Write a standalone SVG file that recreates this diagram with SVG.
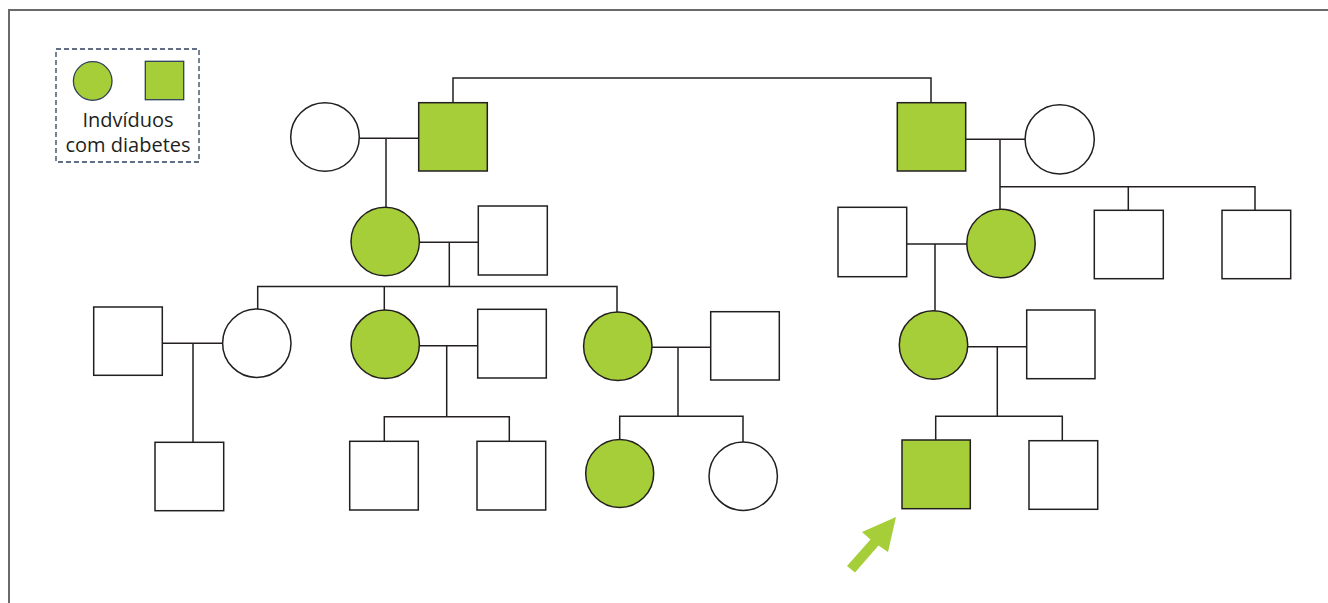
<svg xmlns="http://www.w3.org/2000/svg" width="1328" height="603" viewBox="0 0 1328 603">
<style>
.m{fill:#fff;stroke:#231f20;stroke-width:1.5}
.a{fill:#a6ce39;stroke:#231f20;stroke-width:1.5}
.c{fill:none;stroke:#231f20;stroke-width:1.5}
.t{font-family:"Open Sans","Liberation Sans",sans-serif;font-size:20px;fill:#231f20;text-anchor:middle}
</style>
<rect width="1328" height="603" fill="#fff"/>
<g id="frame"><path d="M9 603V10H1328" fill="none" stroke="#6a6a6a" stroke-width="2"/></g>
<g id="legend">
<rect x="56" y="49" width="143" height="113" fill="none" stroke="#2e3f5c" stroke-width="1.3" stroke-dasharray="5,3"/>
<circle cx="92.7" cy="81" r="19.3" fill="#a6ce39" stroke="#2e3f5c" stroke-width="1.3"/>
<rect x="145.3" y="61.3" width="38.4" height="38.4" fill="#a6ce39" stroke="#2e3f5c" stroke-width="1.3"/>
<text class="t" x="128" y="127">Indvíduos</text>
<text class="t" x="128" y="152">com diabetes</text>
</g>
<g id="connectors">
<path class="c" d="M453 103V78H931V103"/>
<path class="c" d="M359 138.3H419M386 138.3V207.3"/>
<path class="c" d="M966 139.3H1025M1000 139.3V209.3M1000 186.7H1255V210M1128.3 186.7V210.3"/>
<path class="c" d="M419.3 242.3H478.3M449.3 242.3V287M257.7 309V286.5H617V312.3M384.3 286.5V310"/>
<path class="c" d="M906.7 244H967M935 244V310.7"/>
<path class="c" d="M162.3 343.3H222.7M193 343.3V442.3"/>
<path class="c" d="M419.3 345.7H477.7M446.7 346V416.7M384.3 441.3V416.7H509.3V441.3"/>
<path class="c" d="M652 347.3H710.7M678 347.3V416.3M619.7 439.3V416.3H743V442"/>
<path class="c" d="M967.7 346.7H1026.7M997.3 346.7V416.3M935.7 440V416.3H1062.3V440.7"/>
</g>
<g id="n1"><circle class="m" cx="325" cy="137" r="34.3"/></g>
<g id="n2"><rect class="a" x="418.7" y="102.7" width="68.6" height="68.3"/></g>
<g id="n3"><rect class="a" x="897.3" y="102.7" width="68.4" height="68.3"/></g>
<g id="n4"><circle class="m" cx="1059.7" cy="139.3" r="34.6"/></g>
<g id="n5"><circle class="a" cx="385.2" cy="241.5" r="34.2"/></g>
<g id="n6"><rect class="m" x="478.3" y="206" width="69" height="69"/></g>
<g id="n7"><rect class="m" x="838" y="207.3" width="68.7" height="69.4"/></g>
<g id="n8"><circle class="a" cx="1001" cy="243.5" r="34.2"/></g>
<g id="n9"><rect class="m" x="1094.3" y="210.3" width="69" height="68.4"/></g>
<g id="n10"><rect class="m" x="1222" y="210.3" width="68.7" height="68.4"/></g>
<g id="n11"><rect class="m" x="93.7" y="307" width="68.6" height="68.3"/></g>
<g id="n12"><circle class="m" cx="256.8" cy="343.2" r="34.2"/></g>
<g id="n13"><circle class="a" cx="385.2" cy="344.3" r="34.2"/></g>
<g id="n14"><rect class="m" x="477.7" y="309.3" width="68.6" height="68.7"/></g>
<g id="n15"><circle class="a" cx="617.8" cy="346.3" r="34.2"/></g>
<g id="n16"><rect class="m" x="710.7" y="311.7" width="68.6" height="68.3"/></g>
<g id="n17"><circle class="a" cx="933.5" cy="345" r="34.2"/></g>
<g id="n18"><rect class="m" x="1026.7" y="310" width="68.3" height="68.7"/></g>
<g id="n19"><rect class="m" x="155" y="442.3" width="68.7" height="68.4"/></g>
<g id="n20"><rect class="m" x="349.7" y="441.3" width="68.6" height="68.7"/></g>
<g id="n21"><rect class="m" x="477" y="441.3" width="68.7" height="68.7"/></g>
<g id="n22"><circle class="a" cx="619.7" cy="473.5" r="34"/></g>
<g id="n23"><circle class="m" cx="743.2" cy="476.2" r="34.2"/></g>
<g id="n24"><rect class="a" x="902" y="440" width="68.3" height="68.7"/></g>
<g id="n25"><rect class="m" x="1029" y="440.7" width="68.7" height="68.6"/></g>
<g id="arrow"><polygon points="896,517 862,532 870.5,539.5 847,566 855,572.5 878.5,545.5 888,552" fill="#a6ce39"/></g>
</svg>
